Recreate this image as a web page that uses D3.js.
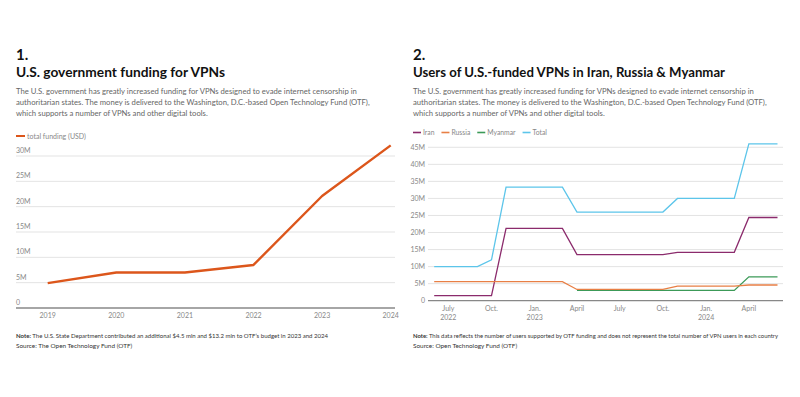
<!DOCTYPE html>
<meta charset="utf-8">
<head>
  <style>
    body { margin: 0; background: #fff; }
    svg { font-family: Lato, "Noto Sans", sans-serif; }
    .title { font-weight: 700; fill: #111; }
    .sub { fill: #666; font-size: 7.7px; }
    .tick-label { fill: #888; font-size: 7px; }
    .note { fill: #333; font-size: 6.4px; }
    .grid { stroke: #dcdcdc; stroke-width: 0.8px; }
    .base { stroke: #888; stroke-width: 1.3px; }
  </style>
</head>
<body>
  <script src="https://d3js.org/d3.v7.min.js"></script>
  <div id="chart"></div>
  <script>
    var width = 800,
      height = 397;

    // chart 1: yearly funding (USD millions)
    var years = [2019, 2020, 2021, 2022, 2023, 2024];
    var funding = [4.9, 7.0, 7.0, 8.5, 22.1, 32.1];
    var fundingTicks = [0, 5, 10, 15, 20, 25, 30];

    // chart 2: monthly users (millions), Jun 2022 .. Jun 2024
    var months = ["2022-06", "2022-07", "2022-08", "2022-09", "2022-10", "2022-11", "2022-12",
      "2023-01", "2023-02", "2023-03", "2023-04", "2023-05", "2023-06", "2023-07", "2023-08",
      "2023-09", "2023-10", "2023-11", "2023-12", "2024-01", "2024-02", "2024-03", "2024-04",
      "2024-05", "2024-06"];
    var iranUsers = [1.5, 1.5, 1.5, 1.5, 1.5, 21.2, 21.2, 21.2, 21.2, 21.2, 13.5, 13.5, 13.5,
      13.5, 13.5, 13.5, 13.5, 14.2, 14.2, 14.2, 14.2, 14.2, 24.4, 24.4, 24.4];
    var russiaUsers = [5.6, 5.6, 5.6, 5.6, 5.6, 5.6, 5.6, 5.6, 5.6, 5.6, 3.3, 3.3, 3.3, 3.3,
      3.3, 3.3, 3.3, 4.3, 4.3, 4.3, 4.3, 4.3, 4.6, 4.6, 4.6];
    var myanmarUsers = [null, null, null, null, null, null, null, null, null, null, 3.0, 3.0,
      3.0, 3.0, 3.0, 3.0, 3.0, 3.0, 3.0, 3.0, 3.0, 3.0, 7.0, 7.0, 7.0];
    var totalUsers = [10, 10, 10, 10, 12, 33.3, 33.3, 33.3, 33.3, 33.3, 26, 26, 26, 26, 26, 26,
      26, 30, 30, 30, 30, 30, 46, 46, 46];
    var userTicks = [0, 5, 10, 15, 20, 25, 30, 35, 40, 45];
    var xTickMonths = ["2022-07", "2022-10", "2023-01", "2023-04", "2023-07", "2023-10", "2024-01", "2024-04"];
    var xTickLabels = ["July", "Oct.", "Jan.", "April", "July", "Oct.", "Jan.", "April"];
    var xTickYears = ["2022", "", "2023", "", "", "", "2024", ""];

    var seriesNames = ["Iran", "Russia", "Myanmar", "Total"];
    var seriesColors = ["#8b2b6c", "#e87f45", "#3c9a58", "#5cc5ea"];

    var subtitle = [
      "The U.S. government has greatly increased funding for VPNs designed to evade internet censorship in",
      "authoritarian states. The money is delivered to the Washington, D.C.-based Open Technology Fund (OTF),",
      "which supports a number of VPNs and other digital tools."
    ];

    var svg = d3.select('#chart')
      .append('svg')
      .attr('width', width)
      .attr('height', height);

    svg.append('rect').attr('width', width).attr('height', height).attr('fill', '#fff');

    function header(x, num, title, titleWidth) {
      svg.append('text').attr('class', 'title').attr('x', x).attr('y', 60)
        .style('font-size', '15px').text(num);
      svg.append('text').attr('class', 'title').attr('x', x).attr('y', 77)
        .style('font-size', '14px')
        .attr('textLength', titleWidth).attr('lengthAdjust', 'spacingAndGlyphs')
        .text(title);
      subtitle.forEach(function (s, i) {
        svg.append('text').attr('class', 'sub').attr('x', x).attr('y', 94 + i * 10.8).text(s);
      });
    }

    function note(g, x, y, label, body, w, size) {
      g.append('text').attr('class', 'note').attr('x', x).attr('y', y)
        .style('font-size', size + 'px')
        .attr('textLength', w).attr('lengthAdjust', 'spacingAndGlyphs')
        .html('<tspan font-weight="700">' + label + '</tspan> ' + body);
    }

    // ---------- chart 1 ----------
    header(16, "1.", "U.S. government funding for VPNs", 209);

    var x1 = d3.scaleLinear().domain([2019, 2024]).range([47.7, 390.7]);
    var y1 = d3.scaleLinear().domain([0, 30]).range([308, 156]);

    var g1 = svg.append('g');
    g1.selectAll('line.grid')
      .data(fundingTicks.filter(d => d > 0))
      .enter().append('line')
      .attr('class', 'grid')
      .attr('x1', 16).attr('x2', 395)
      .attr('y1', d => y1(d)).attr('y2', d => y1(d));
    g1.append('line').attr('class', 'base')
      .attr('x1', 16).attr('x2', 395)
      .attr('y1', y1(0)).attr('y2', y1(0));
    g1.selectAll('text.ylab')
      .data(fundingTicks)
      .enter().append('text')
      .attr('class', 'tick-label')
      .attr('x', 16).attr('y', d => y1(d) - 3)
      .text(d => d === 0 ? "0" : d + "M");
    g1.selectAll('text.xlab')
      .data(years)
      .enter().append('text')
      .attr('class', 'tick-label')
      .attr('text-anchor', 'middle')
      .attr('x', d => x1(d)).attr('y', 318)
      .text(d => d);

    g1.append('path')
      .datum(years.map((d, i) => [d, funding[i]]))
      .attr('fill', 'none')
      .attr('stroke', '#dc561b')
      .attr('stroke-width', 2.4)
      .attr('stroke-linejoin', 'round')
      .attr('d', d3.line().x(d => x1(d[0])).y(d => y1(d[1])));

    // legend 1
    g1.append('line').attr('x1', 16).attr('x2', 25).attr('y1', 136).attr('y2', 136)
      .attr('stroke', '#dc561b').attr('stroke-width', 2);
    g1.append('text').attr('class', 'tick-label').attr('x', 27).attr('y', 138.5)
      .text("total funding (USD)");

    note(g1, 16, 338, "Note:", "The U.S. State Department contributed an additional $4.5 mln and $13.2 mln to OTF\u2019s budget in 2023 and 2024", 312, 6.2);
    g1.append('text').attr('class', 'note').attr('x', 16).attr('y', 347.5)
      .text("Source: The Open Technology Fund (OTF)");

    // ---------- chart 2 ----------
    header(413, "2.", "Users of U.S.-funded VPNs in Iran, Russia & Myanmar", 312);

    var parse = d3.timeParse("%Y-%m");
    var dates = months.map(parse);
    var x2 = d3.scaleTime().domain([parse("2022-06"), parse("2024-06")]).range([434.2, 777.5]);
    var y2 = d3.scaleLinear().domain([0, 45]).range([300.7, 147.3]);

    var g2 = svg.append('g');
    g2.selectAll('line.grid')
      .data(userTicks.filter(d => d > 0))
      .enter().append('line')
      .attr('class', 'grid')
      .attr('x1', 428).attr('x2', 783)
      .attr('y1', d => y2(d)).attr('y2', d => y2(d));
    g2.append('line').attr('class', 'base')
      .attr('x1', 428).attr('x2', 783)
      .attr('y1', y2(0)).attr('y2', y2(0));
    g2.selectAll('text.ylab')
      .data(userTicks)
      .enter().append('text')
      .attr('class', 'tick-label')
      .attr('text-anchor', 'end')
      .attr('x', 425).attr('y', d => y2(d) + 2.5)
      .text(d => d === 0 ? "0" : d + "M");

    var xt = g2.selectAll('g.xt')
      .data(xTickMonths)
      .enter().append('g')
      .attr('transform', d => 'translate(' + x2(parse(d)) + ',0)');
    xt.append('text').attr('class', 'tick-label').attr('text-anchor', 'middle')
      .attr('y', 311).text((d, i) => xTickLabels[i]);
    xt.append('text').attr('class', 'tick-label').attr('text-anchor', 'middle')
      .attr('y', 319.5).text((d, i) => xTickYears[i]);

    var series = [iranUsers, russiaUsers, myanmarUsers, totalUsers];
    var line2 = d3.line()
      .defined(d => d[1] != null)
      .x(d => x2(d[0])).y(d => y2(d[1]));

    // draw order: total, iran, myanmar, russia on top
    [3, 0, 2, 1].forEach(function (k) {
      g2.append('path')
        .datum(dates.map((d, i) => [d, series[k][i]]))
        .attr('fill', 'none')
        .attr('stroke', seriesColors[k])
        .attr('stroke-width', 1.3)
        .attr('d', line2);
    });

    // legend 2
    var lx = 413;
    seriesNames.forEach(function (name, i) {
      g2.append('line').attr('x1', lx).attr('x2', lx + 8).attr('y1', 132.5).attr('y2', 132.5)
        .attr('stroke', seriesColors[i]).attr('stroke-width', 1.6);
      var t = g2.append('text').attr('class', 'tick-label').attr('x', lx + 10).attr('y', 135)
        .style('font-size', '6.8px')
        .text(name);
      lx += 10 + t.node().getComputedTextLength() + 7;
    });

    note(g2, 413, 338, "Note:", "This data reflects the number of users supported by OTF funding and does not represent the total number of VPN users in each country", 365, 5.8);
    g2.append('text').attr('class', 'note').attr('x', 413).attr('y', 347.5)
      .text("Source: Open Technology Fund (OTF)");
  </script>
</body>
